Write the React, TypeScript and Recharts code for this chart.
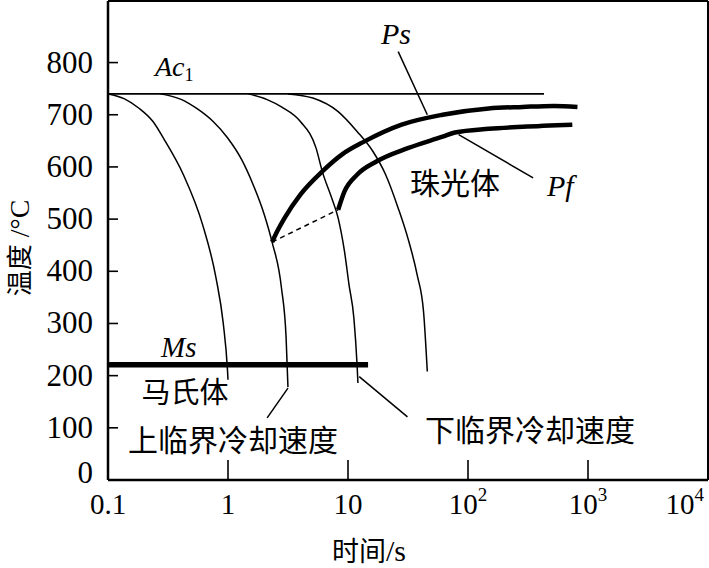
import React from "react";
import { LineChart, Line, XAxis, YAxis, ReferenceLine } from "recharts";

// axis ticks
const TIME_TICKS = [0.1, 1, 10, 100, 1000, 10000];
const TIME_TICK_BASE = ["0.1", "1", "10", "10", "10", "10"];
const TIME_TICK_EXP = ["", "", "", "2", "3", "4"];
const TEMP_TICKS = [0, 100, 200, 300, 400, 500, 600, 700, 800];
const TEMP_MAX = 918;

// critical temperatures
const AC1 = 740;
const AC1_END_T = 430;
const MS = 221;
const MS_END_T = 14.7;

// cooling curves, [time s, temperature °C]
const cooling1: [number, number][] = [
  [0.1, 740], [0.136, 731], [0.18, 713], [0.237, 687], [0.295, 652], [0.425, 585],
  [0.615, 489], [0.795, 387], [0.912, 301], [0.99, 211], [1.0, 192],
];
const cooling2: [number, number][] = [
  [0.274, 740], [0.411, 729], [0.541, 713], [0.752, 687], [0.99, 656], [1.3, 614],
  [1.62, 566], [2.01, 508], [2.33, 456], [2.79, 368], [3.05, 272], [3.16, 178],
];
const cooling3: [number, number][] = [
  [1.48, 740], [2.12, 729], [2.79, 715], [4.01, 687], [5.42, 636], [6.11, 591],
  [7.33, 540], [8.28, 502], [9.35, 438], [10.2, 374], [11.2, 310], [11.9, 221], [12.1, 186],
];
const cooling4: [number, number][] = [
  [3.16, 740], [5.1, 732], [8.28, 706], [11.9, 668], [16.1, 630], [20.6, 585],
  [26.2, 521], [31.5, 464], [37.7, 393], [42.6, 323], [45.8, 208],
];

// pearlite start / finish
const pearliteStart: [number, number][] = [
  [2.33, 456], [2.59, 478], [2.94, 501], [4.01, 547], [6.08, 591], [9.06, 625],
  [13.5, 648], [28, 681], [61.4, 700], [149, 712], [286, 715], [519, 717], [817, 715],
];
const pearliteFinish: [number, number][] = [
  [8.28, 518], [9.35, 553], [11.9, 585], [17.1, 610], [31.5, 636], [61.4, 658],
  [77.8, 666], [149, 673], [286, 677], [740, 681],
];

// leader lines
const psLeader: [number, number][] = [[26.2, 821], [45.8, 700]];
const pfLeader: [number, number][] = [[83.6, 662], [349, 579]];
const upperLeader: [number, number][] = [[3.16, 176], [2.12, 119]];
const lowerLeader: [number, number][] = [[12.4, 198], [31.3, 121]];

const toPts = (arr: [number, number][]) => arr.map(([t, T]) => ({ t, T }));
const seg = (arr: [number, number][]) => arr.map(([t, T]) => ({ x: t, y: T }));

const SERIF = "Liberation Serif";
const CJK = "Noto Sans CJK SC";
const PLOT_LEFT = 108;
const PLOT_BOTTOM = 480;

function renderXTick(props: any) {
  const { x, index } = props;
  const base = TIME_TICK_BASE[index];
  const exp = TIME_TICK_EXP[index];
  const last = index === TIME_TICKS.length - 1;
  return (
    <g>
      {index > 0 && !last && (
        <line x1={x} x2={x} y1={PLOT_BOTTOM} y2={PLOT_BOTTOM - 20} stroke="#000" strokeWidth={1.6} />
      )}
      <text
        x={last ? x - 4 : x}
        y={514}
        textAnchor={last ? "end" : "middle"}
        fontSize={29}
        style={{ fontFamily: SERIF }}
        fill="#000"
      >
        {base}
        {exp && (
          <tspan dy={-13} fontSize={19}>
            {exp}
          </tspan>
        )}
      </text>
    </g>
  );
}

function renderYTick(props: any) {
  const { y, payload } = props;
  const v = payload.value;
  return (
    <g>
      {v > 0 && <line x1={PLOT_LEFT} x2={PLOT_LEFT + 10} y1={y} y2={y} stroke="#000" strokeWidth={1.6} />}
      <text
        x={93}
        y={v === 0 ? y + 3 : y + 10}
        textAnchor="end"
        fontSize={31}
        style={{ fontFamily: SERIF }}
        fill="#000"
      >
        {v}
      </text>
    </g>
  );
}

const thin = { stroke: "#000", strokeWidth: 1.5 };

export default function App() {
  return (
    <div style={{ position: "absolute", left: 0, top: 0, background: "#fff" }}>
      <LineChart width={709} height={568} margin={{ top: 1, right: 1, bottom: 0, left: 0 }}>
        <XAxis
          type="number"
          dataKey="t"
          scale="log"
          domain={[0.1, 10000]}
          ticks={TIME_TICKS}
          interval={0}
          allowDataOverflow
          height={88}
          axisLine={{ stroke: "#000", strokeWidth: 2.5 }}
          tickLine={false}
          tick={renderXTick}
        />
        <YAxis
          type="number"
          domain={[0, TEMP_MAX]}
          ticks={TEMP_TICKS}
          interval={0}
          allowDataOverflow
          width={108}
          axisLine={{ stroke: "#000", strokeWidth: 2.5 }}
          tickLine={false}
          tick={renderYTick}
        />
        <ReferenceLine y={TEMP_MAX} stroke="#000" strokeWidth={2} />
        <ReferenceLine x={10000} stroke="#000" strokeWidth={2} />

        <ReferenceLine segment={[{ x: 0.1, y: AC1 }, { x: AC1_END_T, y: AC1 }]} {...thin} strokeWidth={1.6} />
        <ReferenceLine segment={[{ x: 0.1, y: MS }, { x: MS_END_T, y: MS }]} stroke="#000" strokeWidth={5.5} />
        <ReferenceLine segment={seg([pearliteStart[0], pearliteFinish[0]])} {...thin} strokeDasharray="5 4" />
        <ReferenceLine segment={seg(psLeader)} {...thin} />
        <ReferenceLine segment={seg(pfLeader)} {...thin} />
        <ReferenceLine segment={seg(upperLeader)} {...thin} />
        <ReferenceLine segment={seg(lowerLeader)} {...thin} />

        {[cooling1, cooling2, cooling3, cooling4].map((c, i) => (
          <Line
            key={i}
            data={toPts(c)}
            dataKey="T"
            type="monotone"
            {...thin}
            dot={false}
            activeDot={false}
            isAnimationActive={false}
          />
        ))}
        <Line data={toPts(pearliteStart)} dataKey="T" type="monotone" stroke="#000" strokeWidth={4.5}
          dot={false} activeDot={false} isAnimationActive={false} />
        <Line data={toPts(pearliteFinish)} dataKey="T" type="monotone" stroke="#000" strokeWidth={4.5}
          dot={false} activeDot={false} isAnimationActive={false} />

        <g fill="#000">
          <text x={155} y={76} fontSize={28} fontStyle="italic" style={{ fontFamily: SERIF }}>
            Ac<tspan dy={5} fontSize={18} fontStyle="normal">1</tspan>
          </text>
          <text x={381} y={44} fontSize={30} fontStyle="italic" style={{ fontFamily: SERIF }}>Ps</text>
          <text x={547} y={196} fontSize={30} fontStyle="italic" style={{ fontFamily: SERIF }}>Pf</text>
          <text x={161} y={357} fontSize={29} fontStyle="italic" style={{ fontFamily: SERIF }}>Ms</text>
          <text x={455} y={194} fontSize={30} textAnchor="middle" style={{ fontFamily: CJK }}>珠光体</text>
          <text x={185} y={403} fontSize={29} textAnchor="middle" style={{ fontFamily: CJK }}>马氏体</text>
          <text x={233} y={451} fontSize={30} textAnchor="middle" style={{ fontFamily: CJK }}>上临界冷却速度</text>
          <text x={530} y={441} fontSize={30} textAnchor="middle" style={{ fontFamily: CJK }}>下临界冷却速度</text>
          <text x={369} y={561} fontSize={27} textAnchor="middle">
            <tspan style={{ fontFamily: CJK }}>时间</tspan>
            <tspan style={{ fontFamily: SERIF }} fontSize={30}>/s</tspan>
          </text>
          <text transform="translate(29,248) rotate(-90)" fontSize={26} textAnchor="middle">
            <tspan style={{ fontFamily: CJK }}>温度</tspan>
            <tspan style={{ fontFamily: SERIF }} fontSize={28}> /°C</tspan>
          </text>
        </g>
      </LineChart>
    </div>
  );
}
